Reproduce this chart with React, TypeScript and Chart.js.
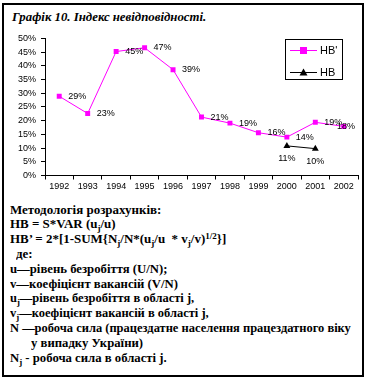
import React, { useEffect, useRef } from "react";
import { Chart, registerables } from "chart.js";

Chart.register(...registerables);

const years = ["1992", "1993", "1994", "1995", "1996", "1997", "1998", "1999", "2000", "2001", "2002"];
const hbPrime = [28.9, 22.6, 45.2, 46.6, 38.6, 21.3, 19.1, 15.6, 14.0, 19.4, 17.9];
const hb = [null, null, null, null, null, null, null, null, 10.8, 9.8, null];
const seriesNames = ["НВ'", "НВ"];
const yMin = 0;
const yMax = 50;
const yStep = 5;

const SANS = "'Liberation Sans', Arial, sans-serif";
const SERIF = "'Liberation Serif', 'Times New Roman', serif";
const CANVAS_TOP = 28;
const CANVAS_BOTTOM = 200;

const labelPlugin = {
  id: "pointLabels",
  afterDatasetsDraw(chart: any) {
    const ctx = chart.ctx;
    const area = chart.chartArea;
    ctx.save();
    ctx.font = `9px ${SANS}`;
    ctx.fillStyle = "#000";
    ctx.textBaseline = "middle";
    chart.data.datasets.forEach((ds: any, di: number) => {
      const meta = chart.getDatasetMeta(di);
      meta.data.forEach((pt: any, i: number) => {
        const v = ds.data[i];
        if (v === null || v === undefined) return;
        const txt = Math.round(v) + "%";
        const w = ctx.measureText(txt).width;
        if (di === 0) {
          let x = pt.x + 9;
          if (x + w > area.right - 3) x = area.right - 3 - w;
          ctx.textAlign = "left";
          ctx.fillText(txt, x, pt.y);
        } else {
          ctx.textAlign = "center";
          ctx.fillText(txt, pt.x, pt.y + 13);
        }
      });
    });
    ctx.restore();
  },
};

const legendPlugin = {
  id: "boxLegend",
  afterDraw(chart: any) {
    const ctx = chart.ctx;
    ctx.save();
    const bx = 285.5, by = 39.5 - CANVAS_TOP, bw = 57, bh = 40;
    ctx.fillStyle = "#fff";
    ctx.fillRect(bx, by, bw, bh);
    ctx.strokeStyle = "#000";
    ctx.lineWidth = 1;
    ctx.strokeRect(bx, by, bw, bh);
    const rows = [
      { y: 50 - CANVAS_TOP, color: "#ff00ff", marker: "rect" },
      { y: 72 - CANVAS_TOP, color: "#000000", marker: "tri" },
    ];
    rows.forEach((r, i) => {
      ctx.strokeStyle = r.color;
      ctx.beginPath();
      ctx.moveTo(290, r.y + 0.5);
      ctx.lineTo(317, r.y + 0.5);
      ctx.stroke();
      ctx.fillStyle = r.color;
      if (r.marker === "rect") {
        ctx.fillRect(300, r.y - 3, 7, 7);
      } else {
        ctx.beginPath();
        ctx.moveTo(303.5, r.y - 3.5);
        ctx.lineTo(307.5, r.y + 3.5);
        ctx.lineTo(299.5, r.y + 3.5);
        ctx.closePath();
        ctx.fill();
      }
      ctx.fillStyle = "#000";
      ctx.font = `11px ${SANS}`;
      ctx.textAlign = "left";
      ctx.textBaseline = "middle";
      ctx.fillText(seriesNames[i], 320, r.y + 1);
    });
    ctx.restore();
  },
};

function ChartBox() {
  const ref = useRef<HTMLCanvasElement>(null);
  useEffect(() => {
    if (!ref.current) return;
    const chart = new Chart(ref.current, {
      type: "line",
      data: {
        labels: years,
        datasets: [
          {
            label: seriesNames[0],
            data: hbPrime,
            borderColor: "#ff00ff",
            backgroundColor: "#ff00ff",
            borderWidth: 1,
            pointStyle: "rect",
            pointRadius: 3.5,
            pointBorderWidth: 0,
            tension: 0,
          },
          {
            label: seriesNames[1],
            data: hb,
            borderColor: "#000000",
            backgroundColor: "#000000",
            borderWidth: 1,
            pointStyle: "triangle",
            pointRadius: 4,
            pointBorderWidth: 0,
            tension: 0,
            spanGaps: false,
          },
        ],
      },
      options: {
        animation: false,
        responsive: false,
        maintainAspectRatio: false,
        devicePixelRatio: 1,
        layout: { padding: { top: 36.5 - CANVAS_TOP, right: 8, left: 0, bottom: 0 } },
        plugins: {
          legend: { display: false },
          tooltip: { enabled: false },
          title: { display: false },
        },
        scales: {
          x: {
            type: "category",
            offset: true,
            grid: {
              offset: true,
              drawOnChartArea: false,
              drawTicks: true,
              tickLength: 4,
              color: "#000",
            },
            border: { display: true, color: "#000", width: 1 },
            ticks: {
              color: "#000",
              font: { family: SANS, size: 9 },
              padding: 2,
              maxRotation: 0,
              autoSkip: false,
            },
            afterFit(scale: any) {
              scale.height = CANVAS_BOTTOM - 175.5;
            },
          },
          y: {
            min: yMin,
            max: yMax,
            grid: {
              drawOnChartArea: false,
              drawTicks: true,
              tickLength: 4,
              color: "#000",
            },
            border: { display: true, color: "#000", width: 1 },
            ticks: {
              stepSize: yStep,
              autoSkip: false,
              color: "#000",
              font: { family: SANS, size: 9 },
              padding: 5,
              callback: (v: any) => v + "%",
            },
            afterFit(scale: any) {
              scale.width = 45;
            },
          },
        },
      },
      plugins: [labelPlugin, legendPlugin],
    } as any);
    return () => chart.destroy();
  }, []);
  return (
    <canvas
      ref={ref}
      width={366}
      height={CANVAS_BOTTOM - CANVAS_TOP}
      style={{ position: "absolute", left: 0, top: CANVAS_TOP, width: 366, height: CANVAS_BOTTOM - CANVAS_TOP }}
    />
  );
}

const sub = (t: string) => (
  <span style={{ fontSize: "0.7em", position: "relative", top: 3 }}>{t}</span>
);
const sup = (t: string) => (
  <span style={{ fontSize: "0.7em", position: "relative", top: -4 }}>{t}</span>
);

const textLines: { indent: number; sx: number; content: React.ReactNode }[] = [
  { indent: 0, sx: 1.08, content: "Методологія розрахунків:" },
  { indent: 0, sx: 1.08, content: <>НВ = S*VAR (u{sub("j")}/u)</> },
  { indent: 0, sx: 1.08, content: <>НВ’ = 2*[1-SUM{"{"}N{sub("j")}/N*(u{sub("j")}/u&nbsp; * v{sub("j")}/v){sup("1/2")}{"}"}]</> },
  { indent: 6, sx: 1.08, content: "де:" },
  { indent: 0, sx: 1.06, content: "u—рівень безробіття (U/N);" },
  { indent: 0, sx: 1.06, content: "v—коефіцієнт вакансій (V/N)" },
  { indent: 0, sx: 1.04, content: <>u{sub("j")}—рівень безробіття в області j,</> },
  { indent: 0, sx: 1.04, content: <>v{sub("j")}—коефіцієнт вакансій в області j,</> },
  { indent: 0, sx: 1.04, content: "N —робоча сила (працездатне населення працездатного віку" },
  { indent: 21, sx: 1.06, content: "у випадку України)" },
  { indent: 0, sx: 1.06, content: <>N{sub("j")} - робоча сила в області j.</> },
];

export default function App() {
  return (
    <div style={{ position: "absolute", left: 0, top: 0, width: 366, height: 378, background: "#fff" }}>
      <div
        style={{
          position: "absolute",
          left: 2,
          top: 3,
          width: 362,
          height: 374,
          boxSizing: "border-box",
          border: "2px solid #000",
        }}
      />
      <div
        style={{
          position: "absolute",
          left: 12,
          top: 10.5,
          fontFamily: SERIF,
          fontWeight: "bold",
          fontStyle: "italic",
          fontSize: 12.8,
          lineHeight: "12.8px",
          whiteSpace: "nowrap",
        }}
      >
        Графік 10. Індекс невідповідності.
      </div>
      <ChartBox />
      {textLines.map((l, i) => (
        <div
          key={i}
          style={{
            position: "absolute",
            left: 10 + l.indent,
            top: 202.5 + i * 14.8,
            fontFamily: SERIF,
            fontWeight: "bold",
            fontSize: 12,
            lineHeight: "14.8px",
            whiteSpace: "nowrap",
            transform: `scaleX(${l.sx})`,
            transformOrigin: "left center",
          }}
        >
          {l.content}
        </div>
      ))}
    </div>
  );
}
